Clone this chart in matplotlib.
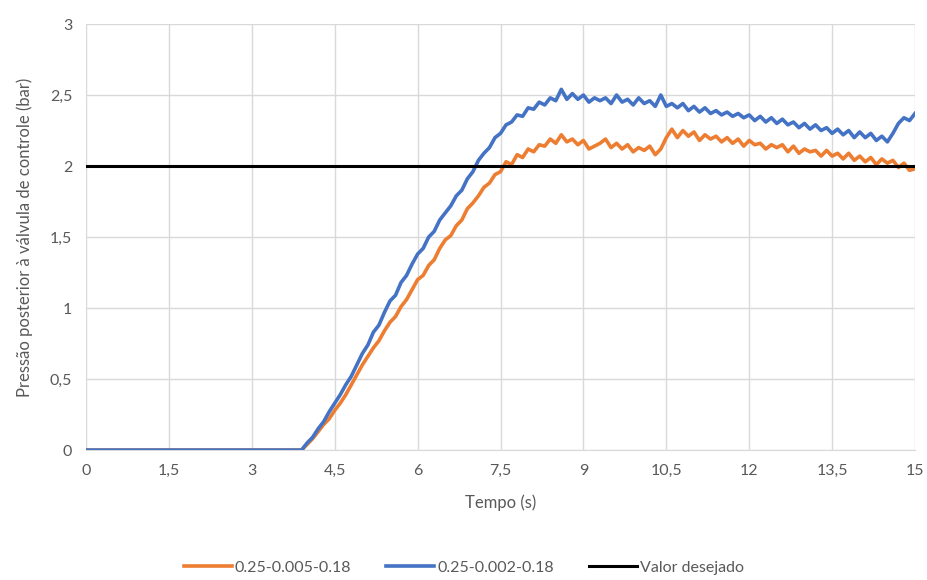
import numpy as np
from matplotlib import pyplot as plt
from matplotlib.ticker import FuncFormatter

# time axis (s): flat start, then 0.1 s steps from 3.9 to 15.0
t_start = [0.0]
t_step = np.round(np.arange(3.9, 15.0001, 0.1), 1)

orange_vals = [
    0.00, 0.04, 0.08, 0.13, 0.18, 0.22, 0.28, 0.33, 0.39, 0.46,
    0.53, 0.60, 0.66, 0.72, 0.77, 0.84, 0.90, 0.94, 1.01, 1.06,
    1.13, 1.20, 1.23, 1.30, 1.34, 1.42, 1.48, 1.51, 1.58, 1.62,
    1.70, 1.74, 1.79, 1.85, 1.88, 1.94, 1.96, 2.03, 2.01, 2.08,
    2.06, 2.12, 2.10, 2.15, 2.14, 2.19, 2.16, 2.22, 2.17, 2.19,
    2.15, 2.18, 2.12, 2.14, 2.16, 2.19, 2.13, 2.16, 2.12, 2.15,
    2.10, 2.13, 2.11, 2.14, 2.08, 2.12, 2.20, 2.26, 2.20, 2.25,
    2.21, 2.24, 2.18, 2.22, 2.19, 2.21, 2.17, 2.20, 2.16, 2.19,
    2.14, 2.18, 2.15, 2.16, 2.12, 2.15, 2.13, 2.15, 2.10, 2.14,
    2.09, 2.12, 2.10, 2.11, 2.07, 2.11, 2.07, 2.09, 2.05, 2.09,
    2.04, 2.07, 2.03, 2.06, 2.01, 2.05, 2.02, 2.04, 1.99, 2.02,
    1.97, 1.98,
]

blue_vals = [
    0.00, 0.05, 0.09, 0.15, 0.20, 0.27, 0.33, 0.39, 0.46, 0.52,
    0.60, 0.68, 0.74, 0.83, 0.88, 0.97, 1.05, 1.09, 1.18, 1.23,
    1.31, 1.38, 1.42, 1.50, 1.54, 1.62, 1.67, 1.72, 1.79, 1.83,
    1.91, 1.96, 2.04, 2.09, 2.13, 2.20, 2.23, 2.29, 2.31, 2.36,
    2.35, 2.41, 2.40, 2.45, 2.43, 2.48, 2.46, 2.54, 2.47, 2.51,
    2.47, 2.50, 2.45, 2.48, 2.46, 2.48, 2.44, 2.50, 2.45, 2.47,
    2.43, 2.48, 2.44, 2.46, 2.42, 2.50, 2.42, 2.44, 2.41, 2.44,
    2.39, 2.42, 2.38, 2.41, 2.37, 2.39, 2.36, 2.38, 2.35, 2.37,
    2.34, 2.36, 2.32, 2.35, 2.31, 2.34, 2.30, 2.33, 2.29, 2.31,
    2.27, 2.30, 2.26, 2.29, 2.25, 2.27, 2.23, 2.26, 2.22, 2.25,
    2.20, 2.24, 2.20, 2.23, 2.18, 2.21, 2.17, 2.23, 2.30, 2.34,
    2.32, 2.37,
]

setpoint_t = [0.0, 15.0]
setpoint_vals = [2.0, 2.0]

x_ticks = [0, 1.5, 3, 4.5, 6, 7.5, 9, 10.5, 12, 13.5, 15]
y_ticks = [0, 0.5, 1, 1.5, 2, 2.5, 3]

labels = ["0.25-0.005-0.18", "0.25-0.002-0.18", "Valor desejado"]
colors = ["#ED7D31", "#4472C4", "#000000"]

plt.rcParams['font.family'] = ['Lato', 'DejaVu Sans']

fig = plt.figure(figsize=(9.28, 5.8), dpi=100)
ax = fig.add_axes([0.0927, 0.224, 0.8933, 0.7346])

t_full = np.concatenate([t_start, t_step])
ax.plot(t_full, [0.0] + orange_vals, color=colors[0], linewidth=2.6, label=labels[0], zorder=3)
ax.plot(t_full, [0.0] + blue_vals, color=colors[1], linewidth=2.6, label=labels[1], zorder=4)
ax.plot(setpoint_t, setpoint_vals, color=colors[2], linewidth=2.2, label=labels[2], zorder=5)

ax.set_xlim(0, 15)
ax.set_ylim(0, 3)
ax.set_xticks(x_ticks)
ax.set_yticks(y_ticks)
fmt = FuncFormatter(lambda v, p: f"{v:g}".replace('.', ','))
ax.xaxis.set_major_formatter(fmt)
ax.yaxis.set_major_formatter(fmt)
ax.tick_params(length=0, labelsize=11.5, labelcolor='#595959', pad=10)
ax.grid(color='#d9d9d9', linewidth=1.0)
ax.set_axisbelow(True)
for side in ['top', 'right', 'left']:
    ax.spines[side].set_visible(False)
ax.spines['bottom'].set_color('#d9d9d9')

ax.set_xlabel('Tempo (s)', fontsize=12, color='#595959', labelpad=12)
ax.set_ylabel('Pressão posterior à válvula de controle (bar)', fontsize=12, color='#595959', labelpad=12)

fig.legend(loc='center', bbox_to_anchor=(0.5, 0.021), ncol=3, frameon=False,
           fontsize=11.5, handlelength=3.0, handletextpad=0.2, columnspacing=2.2,
           labelcolor='#595959')

fig.savefig('out.png', dpi=100)
